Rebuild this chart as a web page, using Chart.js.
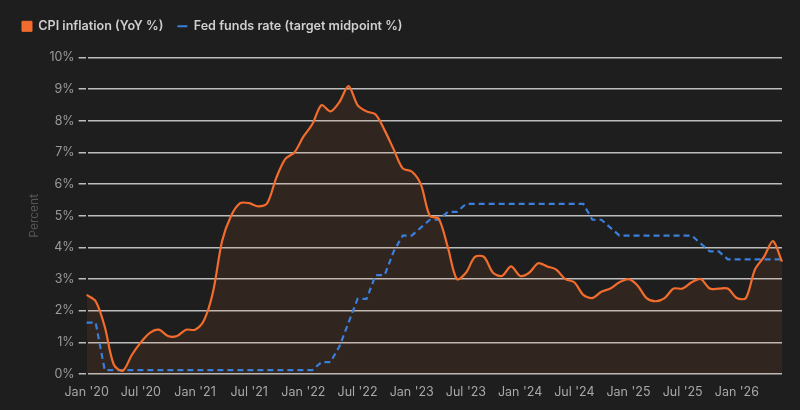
<!DOCTYPE html>
<html>
<head>
<meta charset="utf-8">
<script src="https://cdn.jsdelivr.net/npm/chart.js@4.4.1/dist/chart.umd.min.js"></script>
<style>
  html, body { margin: 0; padding: 0; background: #1e1e1e; }
  #wrap { width: 800px; height: 410px; }
</style>
</head>
<body>
<div id="wrap"><canvas id="ratesChart"></canvas></div>
<script>
// Monthly, Jan 2020 .. Jun 2026
var years = ['20', '21', '22', '23', '24', '25', '26'];
var monthNames = ['Jan', 'Feb', 'Mar', 'Apr', 'May', 'Jun', 'Jul', 'Aug', 'Sep', 'Oct', 'Nov', 'Dec'];
var lastMonthCount = 6; // 2026 runs to June

var categories = [];
years.forEach(function (yy, yi) {
    var n = yi === years.length - 1 ? lastMonthCount : 12;
    for (var m = 0; m < n; m++) categories.push(monthNames[m] + " '" + yy);
});

// tick labels shown on the x axis
var tickLabels = ["Jan '20", "Jul '20", "Jan '21", "Jul '21", "Jan '22", "Jul '22", "Jan '23",
                  "Jul '23", "Jan '24", "Jul '24", "Jan '25", "Jul '25", "Jan '26"];

// CPI inflation, YoY %
var cpi = [
    2.5, 2.3, 1.5, 0.3, 0.1, 0.6, 1.0, 1.3, 1.4, 1.2, 1.2, 1.4,   // 2020
    1.4, 1.7, 2.6, 4.2, 5.0, 5.4, 5.4, 5.3, 5.4, 6.2, 6.8, 7.0,   // 2021
    7.5, 7.9, 8.5, 8.3, 8.6, 9.1, 8.5, 8.3, 8.2, 7.7, 7.1, 6.5,   // 2022
    6.4, 6.0, 5.0, 4.9, 4.0, 3.0, 3.2, 3.7, 3.7, 3.2, 3.1, 3.4,   // 2023
    3.1, 3.2, 3.5, 3.4, 3.3, 3.0, 2.9, 2.5, 2.4, 2.6, 2.7, 2.9,   // 2024
    3.0, 2.8, 2.4, 2.3, 2.4, 2.7, 2.7, 2.9, 3.0, 2.7, 2.7, 2.7,   // 2025
    2.4, 2.4, 3.3, 3.7, 4.2, 3.55                                 // 2026
];

// Fed funds rate, target range midpoint %
var fedFunds = [
    1.625, 1.625, 0.125, 0.125, 0.125, 0.125, 0.125, 0.125, 0.125, 0.125, 0.125, 0.125,
    0.125, 0.125, 0.125, 0.125, 0.125, 0.125, 0.125, 0.125, 0.125, 0.125, 0.125, 0.125,
    0.125, 0.125, 0.375, 0.375, 0.875, 1.625, 2.375, 2.375, 3.125, 3.125, 3.875, 4.375,
    4.375, 4.625, 4.875, 4.875, 5.125, 5.125, 5.375, 5.375, 5.375, 5.375, 5.375, 5.375,
    5.375, 5.375, 5.375, 5.375, 5.375, 5.375, 5.375, 5.375, 4.875, 4.875, 4.625, 4.375,
    4.375, 4.375, 4.375, 4.375, 4.375, 4.375, 4.375, 4.375, 4.125, 3.875, 3.875, 3.625,
    3.625, 3.625, 3.625, 3.625, 3.625, 3.625
];

var yTicks = [0, 1, 2, 3, 4, 5, 6, 7, 8, 9, 10];

var orange = '#f26d2d';
var blue = '#3a7fdc';

// a bit more room under the legend
var legendGap = {
    id: 'legendGap',
    beforeInit: function (chart) {
        var origFit = chart.legend.fit;
        chart.legend.fit = function () {
            origFit.bind(chart.legend)();
            this.height += 15;
        };
    }
};

document.addEventListener('DOMContentLoaded', function () {
    var ctx = document.getElementById('ratesChart');
    new Chart(ctx, {
        type: 'line',
        plugins: [legendGap],
        data: {
            labels: categories,
            datasets: [{
                label: 'CPI inflation (YoY %)',
                data: cpi,
                borderColor: orange,
                backgroundColor: 'rgba(242, 109, 45, 0.09)',
                borderWidth: 2.2,
                fill: 'origin',
                tension: 0.3,
                pointRadius: 0,
                pointStyle: 'rect'
            }, {
                label: 'Fed funds rate (target midpoint %)',
                data: fedFunds,
                borderColor: blue,
                backgroundColor: blue,
                borderWidth: 2.2,
                borderDash: [6, 4],
                fill: false,
                tension: 0,
                pointRadius: 0,
                pointStyle: 'line'
            }]
        },
        options: {
            responsive: true,
            maintainAspectRatio: false,
            animation: false,
            layout: {
                padding: { left: 8, right: 18, top: 6, bottom: 7 }
            },
            plugins: {
                filler: { drawTime: 'beforeDatasetsDraw' },
                tooltip: { enabled: false },
                legend: {
                    position: 'top',
                    align: 'start',
                    labels: {
                        usePointStyle: true,
                        pointStyleWidth: 10,
                        boxHeight: 10,
                        padding: 14,
                        color: '#cfcfcf',
                        font: { family: 'Inter', size: 12.6, weight: '600' },
                        generateLabels: function (chart) {
                            var items = Chart.defaults.plugins.legend.labels.generateLabels(chart);
                            items[0].fillStyle = orange;
                            items[0].strokeStyle = orange;
                            items[0].lineWidth = 1;
                            items[1].fillStyle = blue;
                            items[1].strokeStyle = blue;
                            items[1].lineWidth = 2;
                            items[1].lineDash = [];
                            return items;
                        }
                    }
                }
            },
            scales: {
                x: {
                    offset: false,
                    grid: { display: false },
                    border: { display: false },
                    ticks: {
                        autoSkip: false,
                        maxRotation: 0,
                        color: '#a8a8a8',
                        font: { family: 'Inter', size: 12.5 },
                        callback: function (value) {
                            var lbl = this.getLabelForValue(value);
                            return tickLabels.indexOf(lbl) >= 0 ? lbl : null;
                        }
                    }
                },
                y: {
                    min: yTicks[0],
                    max: yTicks[yTicks.length - 1],
                    afterBuildTicks: function (axis) {
                        axis.ticks = yTicks.map(function (v) { return { value: v }; });
                    },
                    grid: {
                        color: 'rgba(225, 225, 225, 0.82)',
                        lineWidth: 1.5,
                        tickLength: 8
                    },
                    border: { display: true, color: '#1e1e1e', width: 2 },
                    ticks: {
                        color: '#9a9a9a',
                        padding: 4,
                        font: { family: 'Inter', size: 12.5 },
                        callback: function (v) { return v + '%'; }
                    },
                    title: {
                        display: true,
                        text: 'Percent',
                        color: '#555555',
                        padding: { top: 19, bottom: 4 },
                        font: { family: 'Inter', size: 12 }
                    }
                }
            }
        }
    });
});
</script>
</body>
</html>
